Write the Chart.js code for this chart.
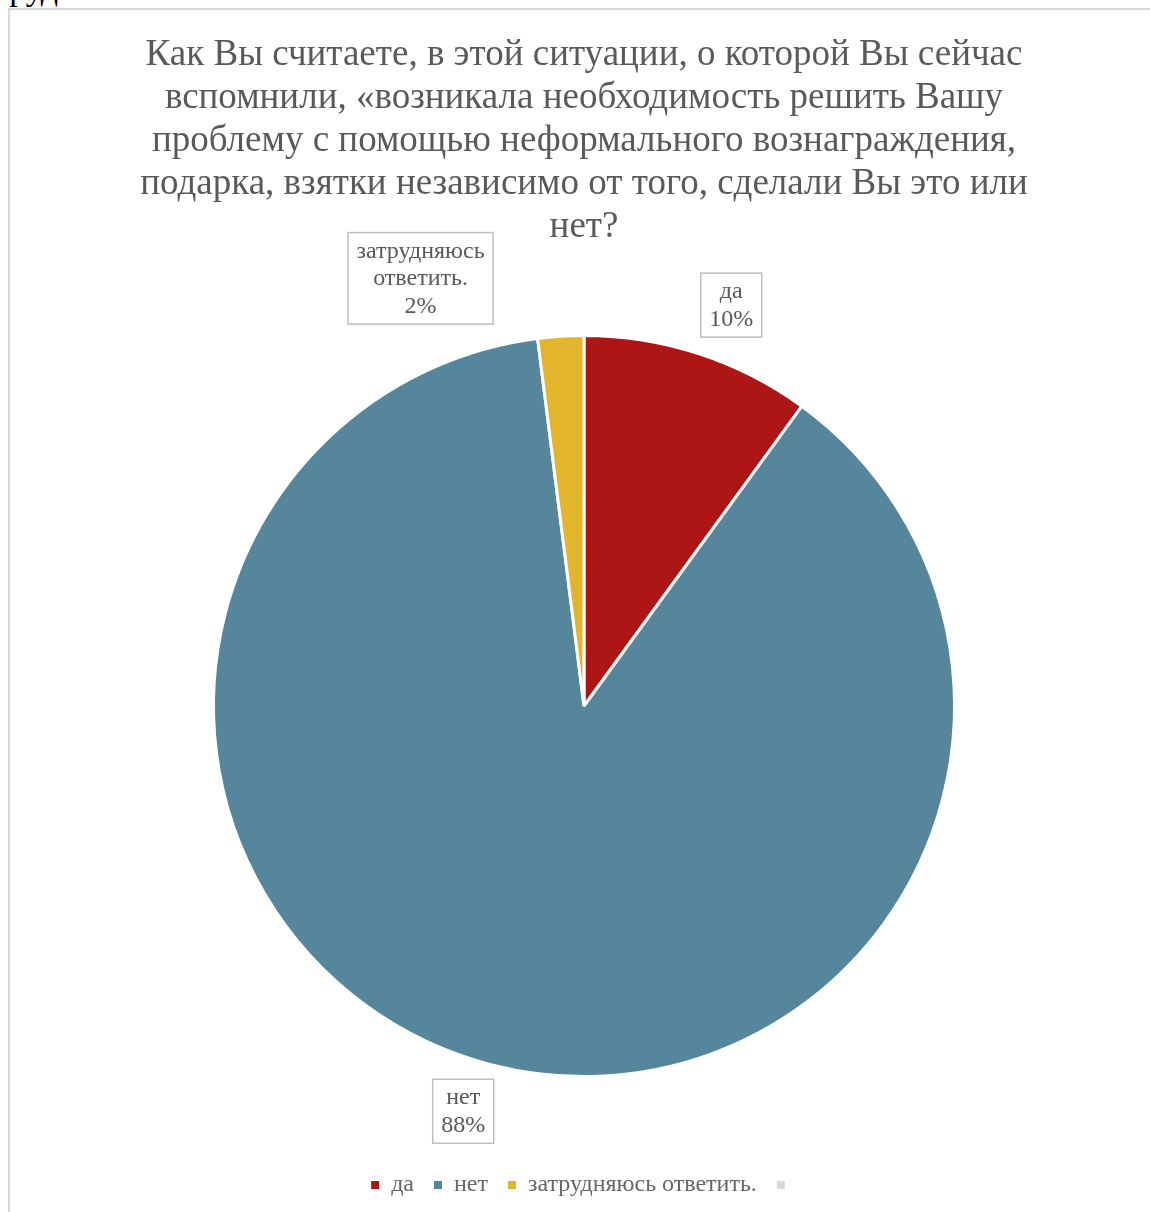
<!DOCTYPE html>
<html>
<head>
<meta charset="utf-8">
<script src="https://cdn.jsdelivr.net/npm/chart.js@4.4.1/dist/chart.umd.min.js"></script>
<style>
  html, body { margin: 0; padding: 0; background: #fff; overflow: hidden; }
  #frame { position: absolute; left: 8px; top: 8px; width: 1142px; height: 1204px;
           border-left: 2px solid #d9d9d9; border-top: 2px solid #d9d9d9; box-sizing: border-box; }
  #cut { position: absolute; left: -6px; top: -30px; font: 34px "Liberation Serif", serif; color: #000; }
  #wrap { position: absolute; left: 0; top: 0; width: 1150px; height: 1212px; }
</style>
</head>
<body>
<div id="cut">труд</div>
<div id="frame"></div>
<div id="wrap"><canvas id="pieChart" width="1150" height="1212"></canvas></div>
<script>
// data
const categories = ['да', 'нет', 'затрудняюсь ответить.', ''];
const shares = [10, 88, 2, 0];
const sliceColors = ['#ae1515', '#55869b', '#e3b52a', '#d9d9d9'];
const titleLines = [
    'Как Вы считаете, в этой ситуации, о которой Вы сейчас',
    'вспомнили, «возникала необходимость решить Вашу',
    'проблему с помощью неформального вознаграждения,',
    'подарка, взятки независимо от того, сделали Вы это или',
    'нет?'
];
const labelLines = [
    ['да', '10%'],
    ['нет', '88%'],
    ['затрудняюсь', 'ответить.', '2%'],
    null
];

const textColor = '#595959';
const serif = '"Liberation Serif", "Times New Roman", serif';

// draws the boxed data labels outside each slice
const boxLabels = {
    id: 'boxLabels',
    afterDatasetsDraw(chart, args, opts) {
        const ctx = chart.ctx;
        const meta = chart.getDatasetMeta(0);
        meta.data.forEach((arc, i) => {
            const lines = labelLines[i];
            if (!lines) return;
            const mid = (arc.startAngle + arc.endAngle) / 2;
            const d = arc.outerRadius + opts.distance;
            const nudge = opts.nudge[i] || [0, 0];
            const cx = arc.x + Math.cos(mid) * d + nudge[0];
            const cy = arc.y + Math.sin(mid) * d + nudge[1];
            ctx.save();
            ctx.font = '24px ' + serif;
            let w = 0;
            lines.forEach(t => { w = Math.max(w, ctx.measureText(t).width); });
            const lh = 27.5;
            const bw = w + 17;
            const bh = lines.length * lh + 9;
            ctx.fillStyle = '#fff';
            ctx.fillRect(cx - bw / 2, cy - bh / 2, bw, bh);
            ctx.strokeStyle = '#bfbfbf';
            ctx.lineWidth = 1.5;
            ctx.strokeRect(cx - bw / 2, cy - bh / 2, bw, bh);
            ctx.fillStyle = textColor;
            ctx.textAlign = 'center';
            ctx.textBaseline = 'middle';
            lines.forEach((t, k) => {
                ctx.fillText(t, cx, cy - bh / 2 + 5 + lh * (k + 0.5));
            });
            ctx.restore();
        });
    }
};

const ctx = document.getElementById('pieChart').getContext('2d');
new Chart(ctx, {
    type: 'pie',
    data: {
        labels: categories,
        datasets: [{
            data: shares,
            backgroundColor: sliceColors,
            borderColor: '#fff',
            borderWidth: [3, 3, 3, 0]
        }]
    },
    options: {
        responsive: false,
        animation: false,
        layout: { padding: { left: 18, right: 0, top: 0, bottom: 5 } },
        plugins: {
            title: {
                display: true,
                text: titleLines,
                color: textColor,
                font: { family: serif, size: 37, weight: 'normal', lineHeight: 43 / 37 },
                padding: { top: 34, bottom: 85 }
            },
            legend: {
                position: 'bottom',
                title: {
                    display: true,
                    text: ' ',
                    font: { size: 10, lineHeight: 1 },
                    padding: { top: 65, bottom: 0 }
                },
                labels: {
                    color: textColor,
                    font: { family: serif, size: 24 },
                    usePointStyle: true,
                    pointStyle: 'rect',
                    boxWidth: 8,
                    boxHeight: 8,
                    padding: 20,
                    generateLabels(chart) {
                        return categories.map((c, i) => ({
                            text: c,
                            fillStyle: sliceColors[i],
                            strokeStyle: sliceColors[i],
                            lineWidth: 0,
                            pointStyle: 'rect',
                            hidden: false,
                            index: i
                        }));
                    }
                }
            },
            tooltip: { enabled: false },
            boxLabels: {
                distance: 51,
                nudge: [[17, 0], [-16, -3], [-137, -7]]
            }
        }
    },
    plugins: [boxLabels]
});
</script>
</body>
</html>
